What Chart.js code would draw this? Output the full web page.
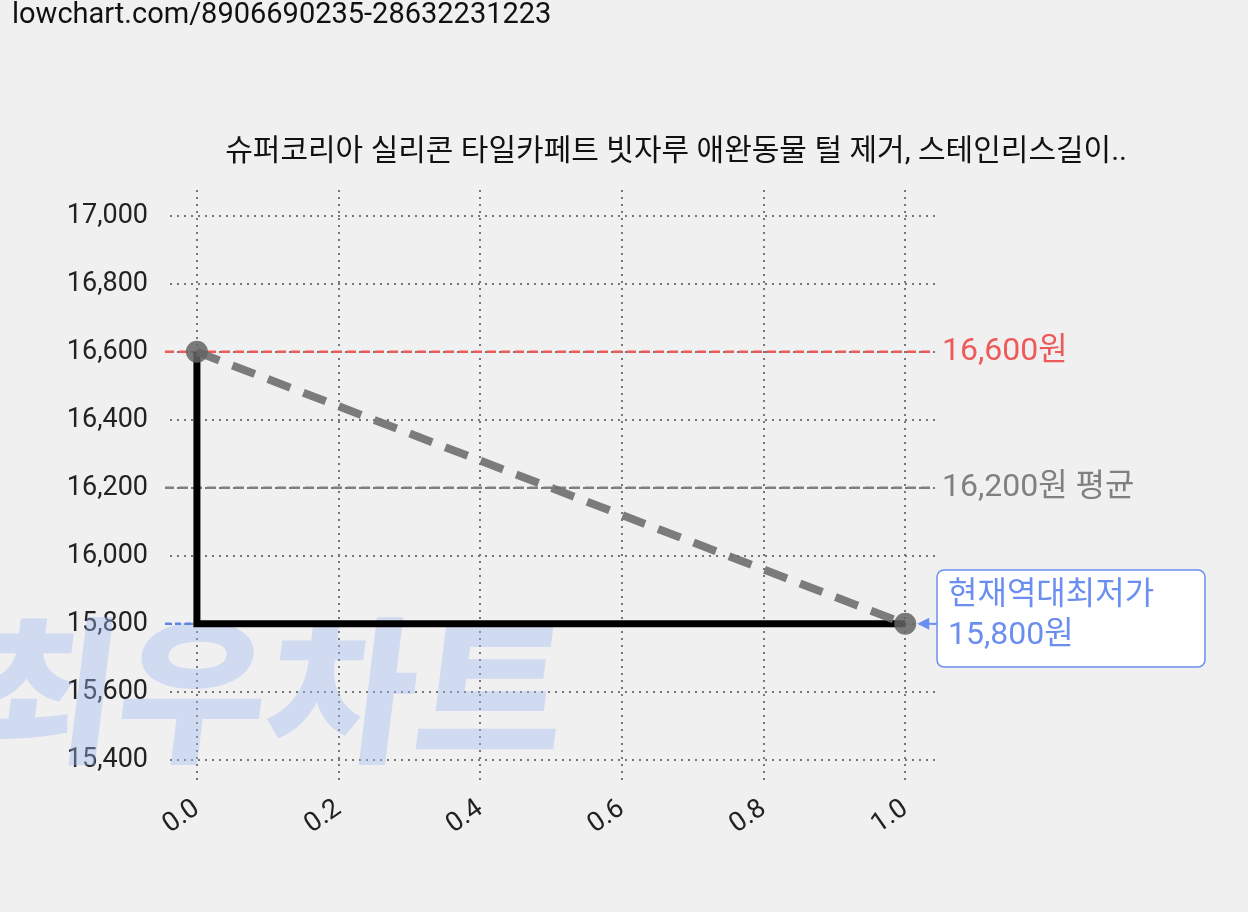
<!DOCTYPE html>
<html><head><meta charset="utf-8">
<script src="https://cdn.jsdelivr.net/npm/chart.js@4"></script>
<style>html,body{margin:0;padding:0;background:#f0f0f0;}#w{width:1248px;height:912px;}</style>
</head><body><div id="w"><canvas id="c"></canvas></div>
<script>
const xTicks=[0,0.2,0.4,0.6,0.8,1.0];
const yTicks=[15400,15600,15800,16000,16200,16400,16600,16800,17000];
const priceX=[0,1];
const priceY=[16600,15800];
const stepX=[0,0,1];
const stepY=[16600,15800,15800];
const maxPrice=16600, avgPrice=16200, minPrice=15800;
const titleText="슈퍼코리아 실리콘 타일카페트 빗자루 애완동물 털 제거, 스테인리스길이..";
const urlText="lowchart.com/8906690235-28632231223";
const F="Roboto,'Noto Sans CJK KR',sans-serif";

const deco={id:'deco',
 beforeDatasetsDraw(ch){const c=ch.ctx,x=ch.scales.x,y=ch.scales.y;
  c.save();c.font="900 150px 'Noto Sans CJK KR'";c.fillStyle="rgba(160,185,240,0.4)";c.textBaseline="middle";
  c.translate(-30,690);c.scale(1.08,1.05);c.transform(1,0,-0.12,1,0,0);c.fillText("최우차트",0,0);c.restore();
  const hl=(v,col,x0,x1,w,d)=>{c.save();c.strokeStyle=col;c.lineWidth=w;c.setLineDash(d);c.beginPath();c.moveTo(x0,y.getPixelForValue(v));c.lineTo(x1,y.getPixelForValue(v));c.stroke();c.restore();};
  hl(maxPrice,'#ee5a5a',165,935,2.5,[9,5]);
  hl(avgPrice,'#808080',165,935,2.5,[9,5]);
  hl(minPrice,'#5b85ee',165,x.getPixelForValue(1),2.5,[6,4]);
 },
 afterDraw(ch){const c=ch.ctx,x=ch.scales.x,y=ch.scales.y;c.save();
  c.font="29px "+F;c.textBaseline="middle";c.fillStyle="#111";
  c.fillText(urlText,12,16);
  c.font="30px "+F;c.textAlign="right";c.fillText(titleText,1127,152);
  c.textAlign="left";c.font="32px "+F;
  c.fillStyle="#ee5a5a";c.fillText("16,600원",942,y.getPixelForValue(maxPrice));
  c.fillStyle="#808080";c.fillText("16,200원 평균",942,y.getPixelForValue(avgPrice));
  const bx=937,by=570,bw=268,bh=97;c.fillStyle="#fff";c.strokeStyle="#6b8ff0";c.lineWidth=1.5;
  c.beginPath();c.roundRect(bx,by,bw,bh,7);c.fill();c.stroke();
  const py=y.getPixelForValue(minPrice),px=x.getPixelForValue(1);
  c.fillStyle="#6b8ff0";c.beginPath();c.moveTo(px+12,py);c.lineTo(px+24,py-6);c.lineTo(px+24,py+6);c.closePath();c.fill();
  c.strokeStyle="#6b8ff0";c.lineWidth=2;c.beginPath();c.moveTo(px+20,py);c.lineTo(bx,py);c.stroke();
  c.font="32px "+F;c.fillStyle="#6b8ff0";c.fillText("현재역대최저가",948,596);c.fillText("15,800원",948,636);
  c.restore();}
};
new Chart(document.getElementById('c'),{type:'scatter',
 data:{datasets:[
  {data:stepX.map((v,i)=>({x:v,y:stepY[i]})),showLine:true,borderColor:'#000',borderWidth:7,pointRadius:0,order:2},
  {data:priceX.map((v,i)=>({x:v,y:priceY[i]})),showLine:true,borderColor:'rgba(110,110,110,0.9)',borderWidth:8,borderDash:[24,14],pointRadius:11,pointBackgroundColor:'rgba(100,100,100,0.85)',pointBorderWidth:0,order:1}
 ]},
 plugins:[deco],
 options:{responsive:true,maintainAspectRatio:false,animation:false,events:[],
  layout:{padding:{top:190,right:313,left:0,bottom:0}},
  plugins:{legend:{display:false},tooltip:{enabled:false}},
  scales:{
   x:{type:'linear',min:-0.038,max:1.042,border:{display:false,dash:[2,5]},
    afterBuildTicks:s=>{s.ticks=xTicks.map(v=>({value:v}));},
    afterFit:s=>{s.height=127;},
    grid:{color:'#777',lineWidth:2,drawTicks:false},
    ticks:{font:{size:27,family:F},color:'#222',maxRotation:35,minRotation:35,padding:8,callback:v=>v.toFixed(1)}},
   y:{type:'linear',min:15326,max:17076,border:{display:false,dash:[2,5]},
    afterBuildTicks:s=>{s.ticks=yTicks.map(v=>({value:v}));},
    afterFit:s=>{s.width=170;},
    grid:{color:'#777',lineWidth:2,drawTicks:false},
    ticks:{font:{size:27,family:F},color:'#222',padding:22,callback:v=>v.toLocaleString('en-US')}}
  }}
});
</script></body></html>
